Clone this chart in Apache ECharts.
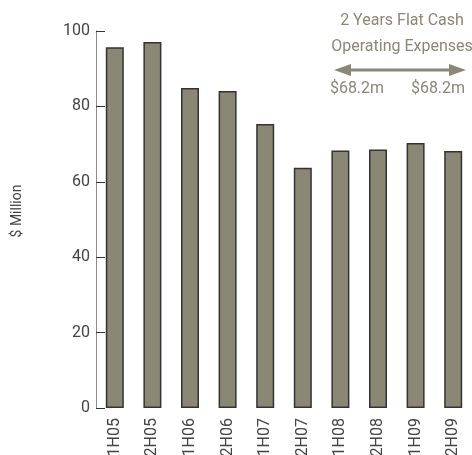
<!DOCTYPE html>
<html>
<head>
<meta charset="utf-8">
<script src="https://cdn.jsdelivr.net/npm/echarts@6/dist/echarts.min.js"></script>
<style>
  html, body { margin: 0; padding: 0; background: #fff; }
  #main { width: 472px; height: 455px; }
</style>
</head>
<body>
<div id="main"></div>
<script>
// half-year periods and cash operating expenses ($ million)
var periods = ['1H05', '2H05', '1H06', '2H06', '1H07', '2H07', '1H08', '2H08', '1H09', '2H09'];
var expenses = [95.7, 97.1, 84.9, 84.1, 75.3, 63.7, 68.3, 68.6, 70.3, 68.2];
var yTicks = [0, 20, 40, 60, 80, 100];
var noteLines = ['2 Years Flat Cash', 'Operating Expenses'];
var noteValues = ['$68.2m', '$68.2m'];

var olive = '#8a8775';
var font = 'Roboto, "Liberation Sans", Arial, sans-serif';

var myChart = echarts.init(document.getElementById('main'));

var option = {
    animation: false,
    grid: { left: 96, right: 0, top: 31, bottom: 47, outerBoundsMode: 'none' },
    xAxis: {
        type: 'category',
        data: periods,
        axisLine: { show: false },
        axisTick: { show: false },
        axisLabel: {
            rotate: 90,
            margin: 10,
            color: '#444',
            fontFamily: font,
            fontSize: 16
        }
    },
    yAxis: {
        type: 'value',
        min: yTicks[0],
        max: yTicks[yTicks.length - 1],
        interval: 20,
        axisLine: { show: true, lineStyle: { color: '#8a8a8a', width: 1 } },
        axisTick: { show: true, inside: true, length: 9, lineStyle: { color: '#333', width: 1 } },
        splitLine: { show: false },
        axisLabel: {
            margin: 6,
            color: '#444',
            fontFamily: font,
            fontSize: 16
        }
    },
    series: [
        {
            type: 'bar',
            data: expenses,
            barWidth: 18,
            itemStyle: {
                color: olive,
                borderColor: '#333',
                borderWidth: 1.5
            }
        }
    ],
    graphic: [
        {
            // y axis title
            type: 'text',
            x: 17, y: 211,
            rotation: Math.PI / 2,
            style: {
                text: '$ Million',
                textAlign: 'center',
                textVerticalAlign: 'middle',
                fill: '#444',
                font: '14px ' + font
            }
        },
        {
            type: 'text',
            style: {
                text: noteLines.join('\n'),
                x: 402, y: 8,
                textAlign: 'center',
                fill: olive,
                font: '16px ' + font,
                lineHeight: 26
            }
        },
        {
            type: 'line',
            shape: { x1: 344, y1: 70, x2: 458, y2: 70 },
            style: { stroke: olive, lineWidth: 3 }
        },
        {
            type: 'polygon',
            shape: { points: [[334, 70], [351, 64], [351, 76]] },
            style: { fill: olive }
        },
        {
            type: 'polygon',
            shape: { points: [[466, 70], [449, 64], [449, 76]] },
            style: { fill: olive }
        },
        {
            type: 'text',
            style: {
                text: noteValues[0],
                x: 357, y: 81,
                textAlign: 'center',
                fill: olive,
                font: '16px ' + font
            }
        },
        {
            type: 'text',
            style: {
                text: noteValues[1],
                x: 438, y: 81,
                textAlign: 'center',
                fill: olive,
                font: '16px ' + font
            }
        }
    ]
};
myChart.setOption(option);
</script>
</body>
</html>
